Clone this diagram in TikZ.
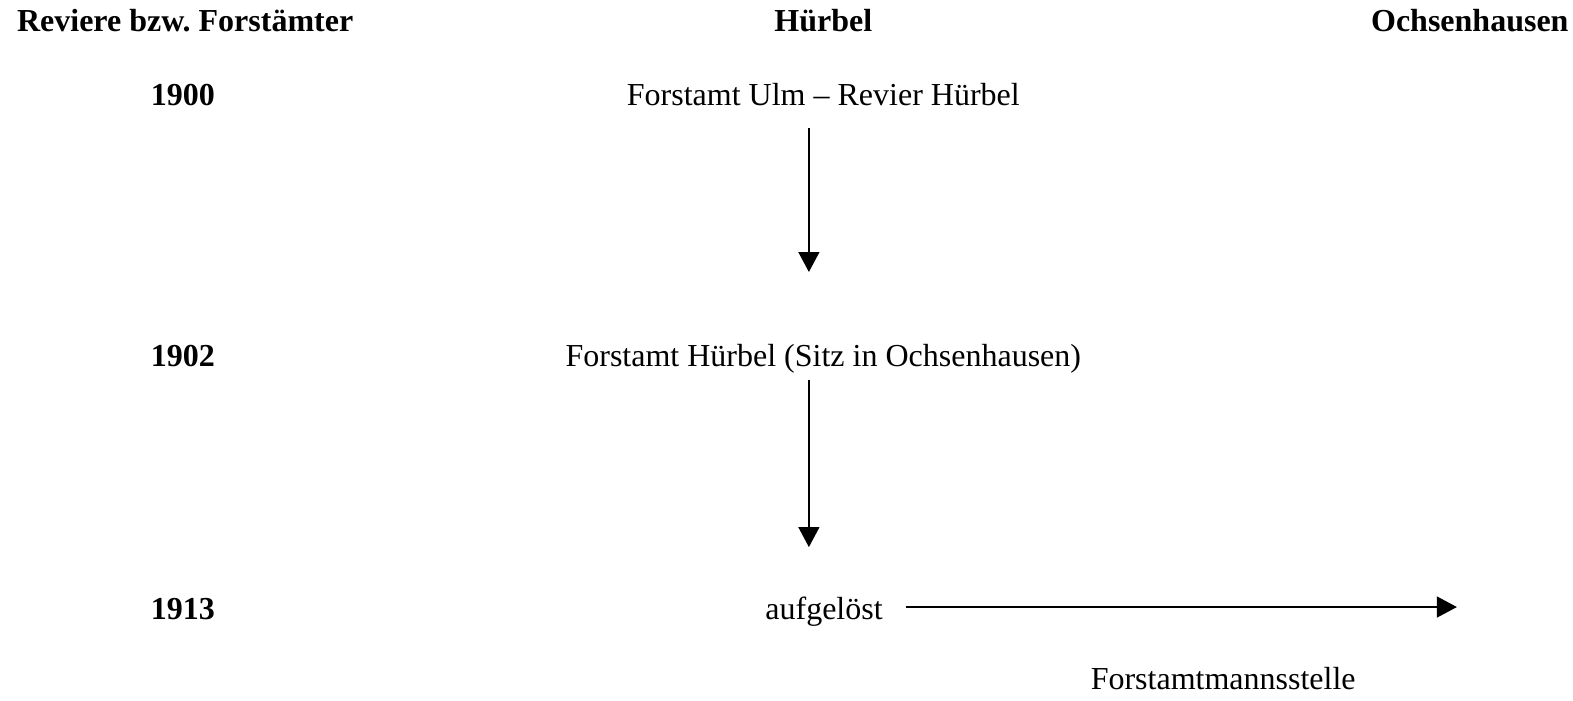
\documentclass[tikz,border=0pt]{standalone}
\usepackage{fontspec}
\setmainfont{Liberation Serif}
\usetikzlibrary{arrows.meta}

\begin{document}
\fontsize{12pt}{14.5pt}\selectfont
\begin{tikzpicture}[
    kopf/.style={font=\bfseries, anchor=base},
    jahr/.style={font=\bfseries, anchor=base},
    amt/.style={anchor=base},
    pfeil/.style={-{Triangle[length=7.5pt, width=7.8pt]}, line width=0.75pt}]
  \useasboundingbox (0,0) rectangle (20.73,-9.226);
  % Kopfzeile
  \node[kopf] (revier) at (2.44,-0.41) {Reviere bzw.\ Forstämter};
  \node[kopf] (huerbel) at (10.85,-0.41) {Hürbel};
  \node[kopf] (ochsen) at (19.37,-0.41) {Ochsenhausen};
  % Jahre
  \node[jahr] (j1900) at (2.41,-1.384) {1900};
  \node[jahr] (j1902) at (2.41,-4.824) {1902};
  \node[jahr] (j1913) at (2.41,-8.17) {1913};
  % Forstämter
  \node[amt] (ulm) at (10.85,-1.384) {Forstamt Ulm -- Revier Hürbel};
  \node[amt] (sitz) at (10.85,-4.824) {Forstamt Hürbel (Sitz in Ochsenhausen)};
  \node[amt] (aufg) at (10.86,-8.17) {aufgelöst};
  \node[amt] (stelle) at (16.12,-9.09) {Forstamtmannsstelle};
  % Pfeile
  \coordinate (e1) at (10.66,-3.585);
  \coordinate (e2) at (10.66,-7.21);
  \coordinate (e3) at (19.20,-8.0);
  \draw[pfeil] ([yshift=-4.2pt]ulm.south -| e1) -- (e1);
  \draw[pfeil] ([yshift=1.5pt]sitz.south -| e2) -- (e2);
  \draw[pfeil] ([xshift=4.5pt]aufg.east |- e3) -- (e3);
\end{tikzpicture}
\end{document}
